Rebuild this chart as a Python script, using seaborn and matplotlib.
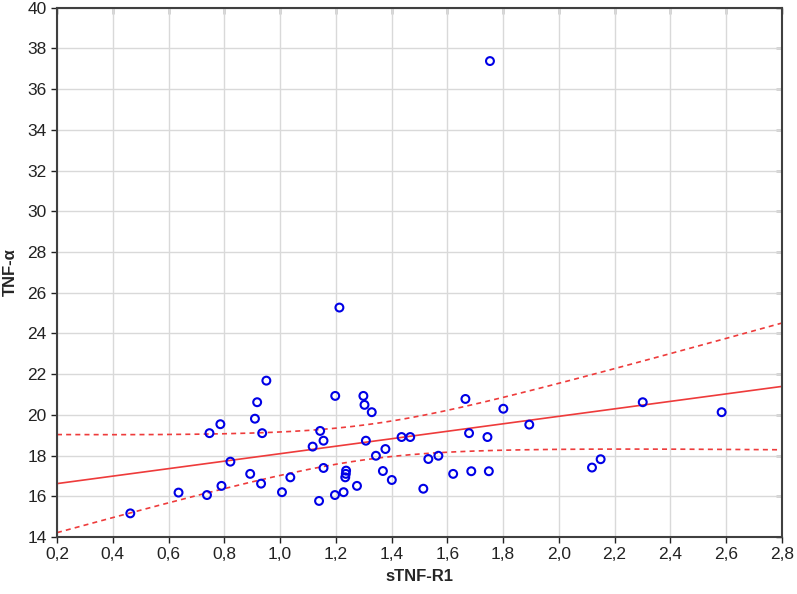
import numpy as np
import matplotlib
matplotlib.use("Agg")
import matplotlib.pyplot as plt
import seaborn as sns

# sTNF-R1 (x) and TNF-alpha (y)
stnf_r1 = [0.463, 0.636, 0.738, 0.747, 0.786, 0.822, 0.790, 0.893, 0.932, 0.910,
           0.918, 0.936, 0.951, 1.007, 1.037, 1.117, 1.144, 1.156, 1.156, 1.140,
           1.198, 1.197, 1.228, 1.234, 1.236, 1.237, 1.276, 1.299, 1.303, 1.308,
           1.329, 1.344, 1.369, 1.378, 1.401, 1.436, 1.467, 1.514, 1.532, 1.568,
           1.621, 1.665, 1.678, 1.686, 1.744, 1.749, 1.801, 1.894, 2.119, 2.150,
           2.301, 2.584, 1.753, 1.213]
tnf_alpha = [15.16, 16.18, 16.06, 19.10, 19.54, 17.70, 16.51, 17.10, 16.62, 19.81,
             20.62, 19.10, 21.68, 16.20, 16.93, 18.44, 19.21, 18.73, 17.39, 15.77,
             20.93, 16.06, 16.20, 16.93, 17.10, 17.26, 16.51, 20.93, 20.49, 18.73,
             20.13, 17.99, 17.24, 18.32, 16.80, 18.91, 18.91, 16.37, 17.83, 17.99,
             17.10, 20.78, 19.10, 17.23, 18.91, 17.23, 20.30, 19.52, 17.41, 17.82,
             20.62, 20.13, 37.38, 25.27]

x_ticks = [0.2, 0.4, 0.6, 0.8, 1.0, 1.2, 1.4, 1.6, 1.8, 2.0, 2.2, 2.4, 2.6, 2.8]
y_ticks = list(range(14, 41, 2))

x = np.array(stnf_r1)
y = np.array(tnf_alpha)

# least-squares line and 95% confidence band for the mean
n = len(x)
slope, intercept = np.polyfit(x, y, 1)
resid = y - (slope * x + intercept)
s = np.sqrt(np.sum(resid ** 2) / (n - 2))
sxx = np.sum((x - x.mean()) ** 2)
t_crit = 2.007  # t(0.975, df=52)
xs = np.linspace(0.2, 2.8, 200)
fit = slope * xs + intercept
half = t_crit * s * np.sqrt(1.0 / n + (xs - x.mean()) ** 2 / sxx)

sns.set_style("whitegrid", {"grid.color": "#d9d9d9", "axes.edgecolor": "#404040"})
plt.rcParams["font.family"] = ["Liberation Sans", "DejaVu Sans"]

fig = plt.figure(figsize=(7.97, 5.94), dpi=100)
ax = fig.add_axes([0.0715, 0.096, 0.9095, 0.891])

line_color = "#ee3b3b"
ax.plot(xs, fit, color=line_color, lw=1.2, zorder=2)
ax.plot(xs, fit + half, color=line_color, lw=1.2, ls=(0, (3, 2.5)), zorder=2)
ax.plot(xs, fit - half, color=line_color, lw=1.2, ls=(0, (3, 2.5)), zorder=2)

sns.scatterplot(x=x, y=y, ax=ax, marker="o", s=32, facecolor="none",
                edgecolor="#0000e6", linewidth=1.5, zorder=3)

ax.set_xlim(0.2, 2.8)
ax.set_ylim(14, 40)
ax.set_xticks(x_ticks)
ax.set_xticklabels([f"{v:.1f}".replace(".", ",") for v in x_ticks])
ax.set_yticks(y_ticks)
ax.set_yticklabels([str(v) for v in y_ticks])
ax.tick_params(axis="both", labelsize=12.5, colors="#222222", length=4,
               direction="out", left=True, bottom=True, width=1)
ax.grid(True, lw=1.0)
for sp in ax.spines.values():
    sp.set_linewidth(1.5)
    sp.set_color("#404040")

# small inward ticks along top and right edges
top = ax.secondary_xaxis("top")
top.set_xticks(x_ticks)
top.tick_params(direction="in", length=4, width=1, labeltop=False, colors="#222222")
right = ax.secondary_yaxis("right")
right.set_yticks(y_ticks)
right.tick_params(direction="in", length=4, width=1, labelright=False, colors="#222222")
for sec in (top, right):
    for sp in sec.spines.values():
        sp.set_visible(False)

ax.set_xlabel("sTNF-R1", fontsize=12, fontweight="bold", labelpad=5)
ax.set_ylabel("TNF-α", fontsize=12, fontweight="bold", labelpad=7,
              family=["Liberation Sans", "DejaVu Sans"])

fig.savefig("out.png", dpi=100)
plt.close(fig)
